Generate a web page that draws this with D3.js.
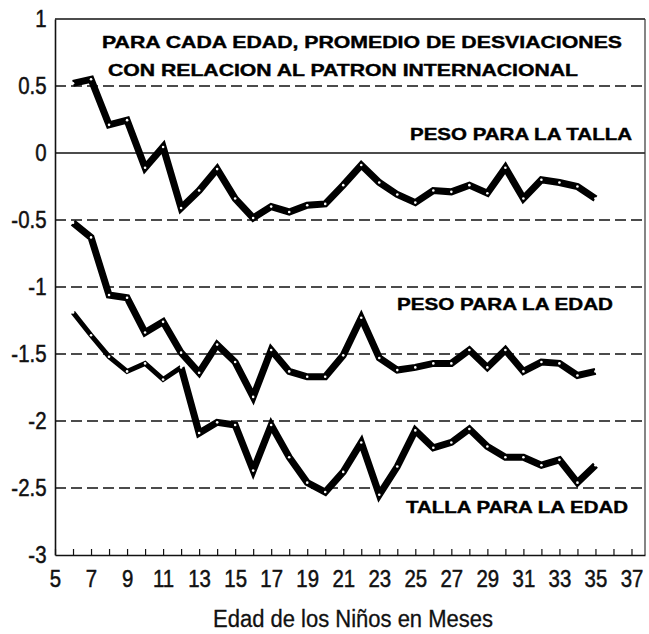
<!DOCTYPE html>
<html>
<head>
<meta charset="utf-8">
<script src="https://cdn.jsdelivr.net/npm/d3@7"></script>
<style>
  body { margin: 0; background: #fff; }
  svg { display: block; }
</style>
</head>
<body>
<div id="chart"></div>
<script>
let months = d3.range(6, 36);
let pesoTalla = [0.52, 0.55, 0.21, 0.245, -0.11, 0.045, -0.41, -0.28, -0.12, -0.34,
                 -0.485, -0.40, -0.44, -0.39, -0.38, -0.24, -0.09, -0.22, -0.31, -0.37,
                 -0.28, -0.29, -0.24, -0.30, -0.11, -0.34, -0.20, -0.22, -0.25, -0.34];
let pesoEdad = [-0.52, -0.63, -1.06, -1.08, -1.34, -1.26, -1.49, -1.64, -1.43, -1.56,
                -1.82, -1.47, -1.63, -1.67, -1.67, -1.51, -1.23, -1.53, -1.62, -1.60,
                -1.57, -1.57, -1.47, -1.60, -1.47, -1.63, -1.56, -1.57, -1.66, -1.63];
let tallaEdad = [-1.19, -1.36, -1.52, -1.63, -1.57, -1.69, -1.60, -2.09, -2.01, -2.03,
                 -2.37, -2.03, -2.27, -2.46, -2.53, -2.38, -2.16, -2.55, -2.34, -2.07,
                 -2.20, -2.16, -2.06, -2.19, -2.27, -2.27, -2.33, -2.29, -2.46, -2.33];
let yTicks = [1, 0.5, 0, -0.5, -1, -1.5, -2, -2.5, -3];
let xTickLabels = d3.range(5, 38, 2);
let titleLines = ["PARA CADA EDAD, PROMEDIO DE DESVIACIONES", "CON RELACION AL PATRON INTERNACIONAL"];
let seriesLabels = ["PESO PARA LA TALLA", "PESO PARA LA EDAD", "TALLA PARA LA EDAD"];
let xTitle = "Edad de los Niños en Meses";

let width = 649, height = 634;
let margin = {top: 19, right: 4, bottom: 79, left: 55};

let svg = d3.select("#chart").append("svg")
            .attr("width", width)
            .attr("height", height);

let x = d3.scaleLinear().domain([5, 37.75]).range([margin.left, width - margin.right]);
let y = d3.scaleLinear().domain([-3, 1]).range([height - margin.bottom, margin.top]);

let font = "'Liberation Sans', Arial, Helvetica, sans-serif";

// grid lines (dashed, zero solid)
svg.append("g")
   .selectAll("line")
   .data(yTicks.filter(d => d > -3 && d < 1))
   .enter().append("line")
     .attr("x1", x(5)).attr("x2", x(37.75))
     .attr("y1", d => y(d)).attr("y2", d => y(d))
     .attr("stroke", "#111")
     .attr("stroke-width", d => d == 0 ? 1.6 : 1.4)
     .attr("stroke-dasharray", d => d == 0 ? null : "11,5");

// frame: top and right
svg.append("line")
   .attr("x1", x(5)).attr("x2", x(37.75))
   .attr("y1", y(1)).attr("y2", y(1))
   .attr("stroke", "#111").attr("stroke-width", 1.4);
svg.append("line")
   .attr("x1", x(37.75)).attr("x2", x(37.75))
   .attr("y1", y(1)).attr("y2", y(-3))
   .attr("stroke", "#333").attr("stroke-width", 1.2);

// left axis
let yAxis = svg.append("g")
   .attr("transform", "translate(" + x(5) + ",0)")
   .call(d3.axisLeft(y).tickValues(yTicks).tickSize(0).tickPadding(10).tickFormat(d => String(d)));
yAxis.select(".domain").attr("stroke", "#111").attr("stroke-width", 1.6);
yAxis.selectAll("text")
     .attr("font-family", font)
     .attr("font-size", 24)
     .attr("transform", "scale(0.85,1)")
     .attr("fill", "#111")
     .attr("stroke", "#111")
     .attr("stroke-width", 0.5);

// bottom axis, ticks pointing up
let xAxis = svg.append("g")
   .attr("transform", "translate(0," + y(-3) + ")")
   .call(d3.axisBottom(x).tickValues(d3.range(5, 38)).tickSize(-6).tickSizeOuter(0)
          .tickPadding(15).tickFormat(d => xTickLabels.includes(d) ? d : ""));
xAxis.select(".domain").attr("stroke", "#111").attr("stroke-width", 1.6);
xAxis.selectAll(".tick line").attr("stroke", "#111").attr("stroke-width", 1.2);
xAxis.selectAll("text")
     .attr("font-family", font)
     .attr("font-size", 24)
     .attr("transform", "scale(0.85,1)")
     .attr("fill", "#111")
     .attr("stroke", "#111")
     .attr("stroke-width", 0.5);

// series lines
let lineFrom = (vals, start, end) => d3.line()
             .x(d => x(d[0]))
             .y(d => y(d[1]))(months.map((m, i) => [m, vals[i]]).slice(start, end));

let paths = [
  {vals: pesoTalla, start: 0, end: 30, w: 7},
  {vals: pesoEdad, start: 0, end: 30, w: 7},
  {vals: tallaEdad, start: 0, end: 7, w: 5},
  {vals: tallaEdad, start: 6, end: 30, w: 7}
];
svg.append("g")
   .selectAll("path")
   .data(paths)
   .enter().append("path")
     .attr("d", d => lineFrom(d.vals, d.start, d.end))
     .attr("fill", "none")
     .attr("stroke", "#000")
     .attr("stroke-width", d => d.w)
     .attr("stroke-linejoin", "miter")
     .attr("stroke-miterlimit", 3);

// little hollow markers at the data points
[pesoTalla, pesoEdad, tallaEdad].forEach(vals => {
  svg.append("g")
     .selectAll("circle")
     .data(vals)
     .enter().append("circle")
       .attr("cx", (d, i) => x(months[i]))
       .attr("cy", d => y(d))
       .attr("r", 1.3)
       .attr("fill", "#fff");
});

// title inside plot
let titleX = [102, 108], titleY = [48, 76], titleW = [520, 470];
svg.selectAll(".title")
   .data(titleLines)
   .enter().append("text")
     .attr("class", "title")
     .attr("x", (d, i) => titleX[i])
     .attr("y", (d, i) => titleY[i])
     .attr("textLength", (d, i) => titleW[i])
     .attr("lengthAdjust", "spacingAndGlyphs")
     .attr("font-family", font)
     .attr("font-weight", "bold")
     .attr("font-size", 16.5)
     .attr("stroke", "#000")
     .attr("stroke-width", 0.4)
     .text(d => d);

// series labels
let labelX = [410, 397, 406], labelY = [140, 310, 513], labelW = [222, 216, 222];
svg.selectAll(".slabel")
   .data(seriesLabels)
   .enter().append("text")
     .attr("class", "slabel")
     .attr("x", (d, i) => labelX[i])
     .attr("y", (d, i) => labelY[i])
     .attr("textLength", (d, i) => labelW[i])
     .attr("lengthAdjust", "spacingAndGlyphs")
     .attr("font-family", font)
     .attr("font-weight", "bold")
     .attr("font-size", 16.5)
     .attr("stroke", "#000")
     .attr("stroke-width", 0.4)
     .text(d => d);

// x axis title
svg.append("text")
   .attr("x", 213)
   .attr("y", 627)
   .attr("textLength", 280)
   .attr("lengthAdjust", "spacingAndGlyphs")
   .attr("font-family", font)
   .attr("font-size", 23)
   .attr("fill", "#111")
   .attr("stroke", "#111")
   .attr("stroke-width", 0.3)
   .text(xTitle);
</script>
</body>
</html>
